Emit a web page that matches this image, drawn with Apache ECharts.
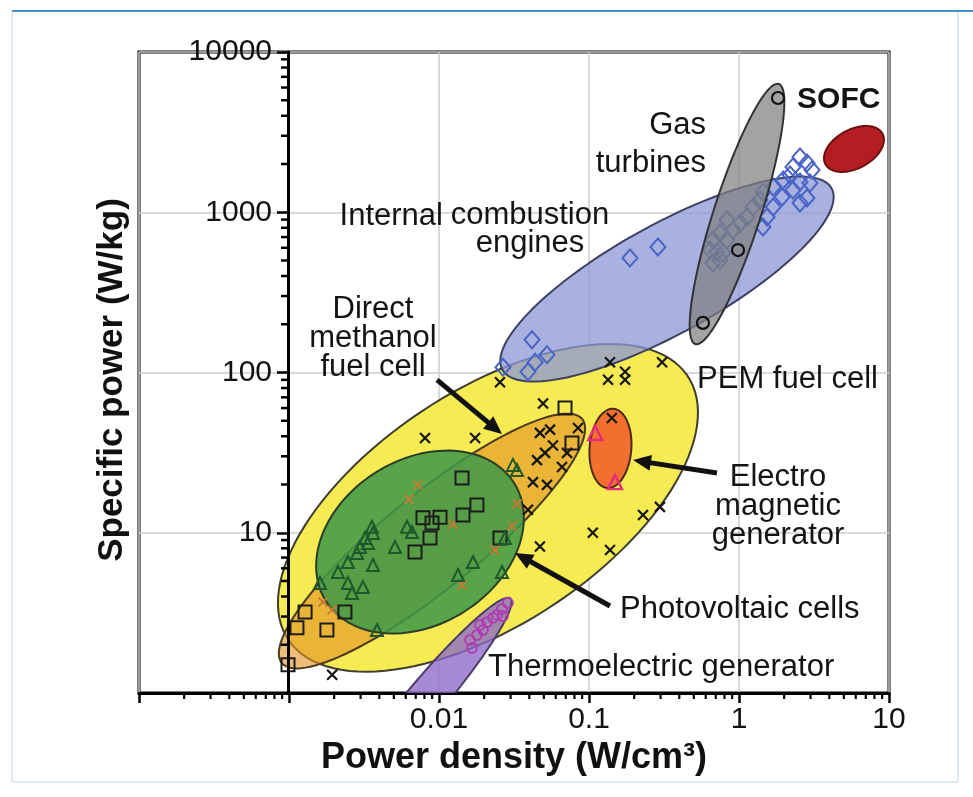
<!DOCTYPE html>
<html>
<head>
<meta charset="utf-8">
<script src="https://cdn.jsdelivr.net/npm/echarts@6/dist/echarts.min.js"></script>
<style>
html, body { margin: 0; padding: 0; background: #ffffff; }
#c { width: 973px; height: 797px; }
</style>
</head>
<body>
<div id="c"></div>
<script>
// ---------------- tick labels ----------------
const xTickValues = [0.01, 0.1, 1, 10];
const xTickLabels = ['0.01', '0.1', '1', '10'];
const yTickValues = [10, 100, 1000, 10000];
const yTickLabels = ['10', '100', '1000', '10000'];
const minorMultipliers = [2, 3, 4, 5, 6, 7, 8, 9];

// ---------------- data (power density W/cm3, specific power W/kg) ----------------
const pemCrosses = [
  [0.0255, 87], [0.138, 116], [0.307, 116], [0.134, 90], [0.174, 101], [0.174, 90],
  [0.0494, 64], [0.00807, 39], [0.0174, 39], [0.0845, 45], [0.0471, 42], [0.055, 44],
  [0.0575, 35], [0.0509, 31.5], [0.045, 28.4], [0.0714, 31.5], [0.0661, 25.7], [0.142, 52],
  [0.0423, 20.7], [0.0525, 19.9], [0.0392, 13.9], [0.106, 10], [0.229, 12.9], [0.297, 14.5],
  [0.0471, 8.2], [0.138, 7.8], [0.00194, 1.3]
];
const dmfcCrosses = [
  [0.00725, 19.9], [0.00631, 16.2], [0.0124, 11.3], [0.0331, 15.1], [0.0307, 11.0],
  [0.0236, 7.8], [0.01424, 4.72], [0.001686, 3.7], [0.001936, 3.3]
];
const squares = [
  [0.0692, 60], [0.077, 36.3], [0.01424, 22], [0.0179, 14.9], [0.01445, 12.9], [0.01016, 12.5],
  [0.00782, 12.4], [0.00898, 11.5], [0.00871, 9.27], [0.00692, 7.59], [0.0255, 9.27],
  [0.00236, 3.2], [0.00128, 3.2], [0.00113, 2.55], [0.00179, 2.47], [0.000985, 1.5]
];
const pvTriangles = [
  [0.00357, 10.9], [0.00612, 10.9], [0.0066, 10.1], [0.00363, 9.96], [0.00321, 9.27],
  [0.00336, 8.63], [0.00297, 8.15], [0.00509, 8.15], [0.00284, 7.48], [0.00247, 6.57],
  [0.00363, 6.29], [0.00212, 5.69], [0.00161, 4.86], [0.00247, 4.86], [0.00311, 4.59],
  [0.00263, 4.21], [0.00386, 2.47], [0.01339, 5.45], [0.01686, 6.57], [0.0263, 5.69],
  [0.0311, 26.5], [0.0331, 24.6], [0.0275, 9.27]
];
const emTriangles = [[0.11, 41.9], [0.149, 20.7]];
const tegCircles = [
  [0.0288, 3.65], [0.0263, 3.34], [0.0267, 3.02], [0.0244, 3.07], [0.0229, 2.94], [0.0209, 2.77],
  [0.01876, 2.66], [0.01965, 2.47], [0.0179, 2.3], [0.0161, 2.14], [0.0166, 1.91]
];
const turbineCircles = [[1.82, 5164], [0.985, 581], [0.575, 204]];
const iceDiamonds = [
  [0.1875, 518], [0.288, 607], [2.55, 2213], [2.84, 2030], [2.29, 1916], [2.19, 1708],
  [1.97, 1589], [2.55, 1545], [2.97, 1523], [1.69, 1438], [2.29, 1377], [2.84, 1227],
  [1.445, 1337], [1.94, 1245], [2.55, 1142], [1.38, 1192], [1.69, 1078], [1.24, 1078],
  [1.54, 934], [1.445, 809], [1.13, 934], [1.02, 857], [0.832, 895], [0.912, 775],
  [0.747, 742], [0.832, 671], [0.671, 671], [0.713, 565], [0.747, 504], [0.671, 482],
  [0.641, 581], [0.782, 557], [3.07, 1836],
  [0.0267, 108], [0.0417, 160], [0.0525, 129], [0.0437, 116], [0.0392, 101]
];

// ---------------- technology regions (ellipses in log-log space) ----------------
const regionNames   = ['PEM fuel cell', 'Direct methanol fuel cell', 'Photovoltaic cells', 'Thermoelectric generator',
                       'Internal combustion engines', 'Gas turbines', 'Electromagnetic generator', 'SOFC'];
const regionCenterX = [0.0212, 0.00898, 0.00747, 0.00807, 0.331, 0.97, 0.139, 5.84];
const regionCenterY = [14.3, 8.88, 8.75, 0.904, 383, 975, 33.6, 2483];
const regionMajor   = [1.566, 1.258, 0.729, 0.852, 1.235, 0.858, 0.248, 0.213]; // semi-axis, decades
const regionMinor   = [0.744, 0.303, 0.523, 0.123, 0.345, 0.155, 0.139, 0.123]; // semi-axis, decades
const regionTilt    = [30.6, 37, 26.7, 48, 27, 71, 85, 25];                      // degrees

// ---------------- annotations ----------------
const noteText = ['SOFC', 'Gas\nturbines', 'Internal', 'combustion\nengines', 'Direct\nmethanol\nfuel cell',
                  'PEM fuel cell', 'Electro\nmagnetic\ngenerator', 'Photovoltaic cells', 'Thermoelectric generator'];
const noteX = [2.44, 0.603, 0.01063, 0.0404, 0.00363, 0.525, 1.82, 0.161, 0.0212];
const noteY = [5015, 2649, 948, 780, 164, 90, 14.5, 3.3, 1.45];
const arrowFrom = [[0.0097, 90], [0.713, 23.6], [0.138, 3.49]];
const arrowTo   = [[0.0263, 41.3], [0.1965, 28.4], [0.0321, 7.48]];

// ---------------- styles ----------------
const FONT = '"Liberation Sans", Arial, Helvetica, sans-serif';
const regionFill = ['rgba(246,234,70,0.93)', 'rgba(226,148,38,0.62)', 'rgba(62,152,72,0.86)', 'rgba(138,106,200,0.78)',
                    'rgba(140,152,214,0.76)', 'rgba(128,128,128,0.72)', 'rgba(242,106,46,0.97)', 'rgba(178,22,26,0.97)'];
const regionStroke = ['#3d3d30', '#4a3a20', '#2a3d2a', '#4d3d66', '#3d4060', '#333333', '#4a2a18', '#6a1010'];
const noteAlign = ['left', 'right', 'right', 'center', 'center', 'left', 'center', 'left', 'left'];
const noteWeight = ['bold', 'normal', 'normal', 'normal', 'normal', 'normal', 'normal', 'normal', 'normal'];
const noteLine = [30, 38, 30, 28, 29, 30, 29, 30, 30];

function findLabel(values, labels, v) {
  for (let i = 0; i < values.length; i++) {
    if (Math.abs(Math.log10(v / values[i])) < 1e-6) return labels[i];
  }
  return '';
}

function ellipsePoints(api, i) {
  const cxL = Math.log10(regionCenterX[i]), cyL = Math.log10(regionCenterY[i]);
  const a = regionMajor[i], b = regionMinor[i], t = regionTilt[i] * Math.PI / 180;
  const pts = [];
  const n = 120;
  for (let k = 0; k < n; k++) {
    const s = 2 * Math.PI * k / n;
    const u = a * Math.cos(s), v = b * Math.sin(s);
    const lx = cxL + u * Math.cos(t) - v * Math.sin(t);
    const ly = cyL + u * Math.sin(t) + v * Math.cos(t);
    pts.push(api.coord([Math.pow(10, lx), Math.pow(10, ly)]));
  }
  return pts;
}

function regionSeries(indices, z) {
  return {
    type: 'custom', coordinateSystem: 'cartesian2d', xAxisIndex: 0, yAxisIndex: 0,
    clip: true, z: z, silent: true,
    encode: { x: 0, y: 1 },
    data: indices.map(i => [regionCenterX[i], regionCenterY[i], i]),
    renderItem: function (params, api) {
      const i = api.value(2);
      return {
        type: 'polygon',
        shape: { points: ellipsePoints(api, i) },
        style: { fill: regionFill[i], stroke: regionStroke[i], lineWidth: 2 }
      };
    }
  };
}

const crossPath = 'path://M0,0L10,10M10,0L0,10';
function scatter(name, data, symbol, size, color, bw, z) {
  return {
    type: 'scatter', name: name, data: data, symbol: symbol, symbolSize: size,
    xAxisIndex: 0, yAxisIndex: 0, z: z, silent: true,
    itemStyle: { color: 'rgba(0,0,0,0)', borderColor: color, borderWidth: bw, opacity: 1 }
  };
}

const chart = echarts.init(document.getElementById('c'), null, { renderer: 'canvas' });

const option = {
  animation: false,
  backgroundColor: '#ffffff',
  grid: {
    left: 139, right: 84, top: 52, bottom: 104,
    show: true, backgroundColor: '#ffffff', borderColor: '#000000', borderWidth: 3,
    containLabel: false, outerBoundsMode: 'none'
  },
  xAxis: [{
    type: 'log', logBase: 10, min: 0.0001, max: 10, splitNumber: 5,
    axisLine: { show: true, onZero: false, lineStyle: { color: '#000', width: 3 } },
    axisTick: { show: true, inside: false, length: 10, lineStyle: { color: '#000', width: 2.5 } },
    axisLabel: {
      formatter: v => findLabel(xTickValues, xTickLabels, v),
      color: '#111', fontSize: 30, fontFamily: FONT, margin: 12
    },
    splitLine: { show: true, lineStyle: { color: '#cccccc', width: 1.5 } },
    name: 'Power density (W/cm³)', nameLocation: 'middle', nameGap: 42,
    nameTextStyle: { fontSize: 36, fontWeight: 'bold', fontFamily: FONT, color: '#111' }
  }],
  yAxis: [{
    type: 'log', logBase: 10, min: 1, max: 10000, splitNumber: 4,
    axisLine: { show: false }, axisTick: { show: false }, axisLabel: { show: false },
    splitLine: { show: true, lineStyle: { color: '#cccccc', width: 1.5 } }
  }, {
    type: 'log', logBase: 10, min: 1, max: 10000, splitNumber: 4, position: 'left', offset: -149, z: 10,
    axisLine: { show: true, onZero: false, lineStyle: { color: '#000', width: 3 } },
    axisTick: { show: true, inside: false, length: 11, lineStyle: { color: '#000', width: 2.5 } },
    axisLabel: {
      formatter: v => findLabel(yTickValues, yTickLabels, v),
      color: '#111', fontSize: 30, fontFamily: FONT, margin: 16
    },
    splitLine: { show: false }
  }],
  graphic: [
    { type: 'rect', z: 100, silent: true, shape: { x: 12, y: 11, width: 946, height: 771 },
      style: { fill: 'none', stroke: '#bcd6e8', lineWidth: 1 } },
    { type: 'line', z: 100, silent: true, shape: { x1: 12, y1: 11, x2: 973, y2: 11 },
      style: { stroke: '#4a90c8', lineWidth: 2 } },
    { type: 'text', z: 100, silent: true, x: 112, y: 380, rotation: Math.PI / 2,
      style: { text: 'Specific power (W/kg)', font: 'bold 35px ' + FONT, fill: '#111',
               align: 'center', verticalAlign: 'middle', textAlign: 'center', textVerticalAlign: 'middle' } }
  ],
  series: [
    regionSeries([0, 1, 2, 3, 4], 2),
    scatter('Internal combustion engines', iceDiamonds, 'diamond', [15, 17], '#4864c6', 2, 3),
    regionSeries([5, 6, 7], 4),
    scatter('PEM fuel cell', pemCrosses, crossPath, 10, '#161616', 2.2, 5),
    scatter('Direct methanol fuel cell', dmfcCrosses, crossPath, 9, '#c47a35', 2, 5),
    scatter('Squares', squares, 'rect', 13, '#1c1c1c', 2, 5),
    scatter('Photovoltaic cells', pvTriangles, 'triangle', 12, '#1d5a2b', 2, 5),
    scatter('Electromagnetic generator', emTriangles, 'triangle', 14, '#e62a7c', 2.4, 5),
    scatter('Thermoelectric generator', tegCircles, 'circle', 10, '#b03ab4', 1.8, 5),
    scatter('Gas turbines', turbineCircles, 'circle', 12, '#111111', 2.2, 5),
    {
      // arrows
      type: 'custom', coordinateSystem: 'cartesian2d', xAxisIndex: 0, yAxisIndex: 0, z: 6, silent: true, clip: false,
      encode: { x: [0, 2], y: [1, 3] },
      data: arrowFrom.map((f, i) => [f[0], f[1], arrowTo[i][0], arrowTo[i][1]]),
      renderItem: function (params, api) {
        const p1 = api.coord([api.value(0), api.value(1)]);
        const p2 = api.coord([api.value(2), api.value(3)]);
        const dx = p2[0] - p1[0], dy = p2[1] - p1[1];
        const len = Math.sqrt(dx * dx + dy * dy);
        const ux = dx / len, uy = dy / len;
        const hl = 18, hw = 8;
        const bx = p2[0] - ux * hl, by = p2[1] - uy * hl;
        return {
          type: 'group',
          children: [
            { type: 'line', shape: { x1: p1[0], y1: p1[1], x2: bx + ux * 3, y2: by + uy * 3 },
              style: { stroke: '#111', lineWidth: 5 } },
            { type: 'polygon', shape: { points: [[p2[0], p2[1]], [bx - uy * hw, by + ux * hw], [bx + uy * hw, by - ux * hw]] },
              style: { fill: '#111' } }
          ]
        };
      }
    },
    {
      // text annotations
      type: 'custom', coordinateSystem: 'cartesian2d', xAxisIndex: 0, yAxisIndex: 0, z: 7, silent: true, clip: false,
      encode: { x: 0, y: 1 },
      data: noteX.map((x, i) => [x, noteY[i], i]),
      renderItem: function (params, api) {
        const i = api.value(2);
        const p = api.coord([api.value(0), api.value(1)]);
        return {
          type: 'text', x: p[0], y: p[1],
          style: {
            text: noteText[i], fill: '#141414',
            font: noteWeight[i] + ' ' + (i === 0 ? 30 : 31) + 'px ' + FONT,
            align: noteAlign[i], textAlign: noteAlign[i],
            verticalAlign: 'middle', textVerticalAlign: 'middle',
            lineHeight: noteLine[i]
          }
        };
      }
    },
    {
      // minor ticks of both log axes
      type: 'custom', coordinateSystem: 'cartesian2d', xAxisIndex: 0, yAxisIndex: 0, z: 8, silent: true, clip: false,
      encode: { x: 0, y: 1 },
      data: [[0.001, 1]],
      renderItem: function (params, api) {
        const kids = [];
        for (let e = -4; e <= 0; e++) {
          minorMultipliers.forEach(m => {
            const p = api.coord([m * Math.pow(10, e), 1]);
            kids.push({ type: 'line', shape: { x1: p[0], y1: p[1], x2: p[0], y2: p[1] + 6 },
                        style: { stroke: '#000', lineWidth: 2.2 } });
          });
        }
        for (let e = 0; e <= 3; e++) {
          minorMultipliers.forEach(m => {
            const p = api.coord([0.001, m * Math.pow(10, e)]);
            kids.push({ type: 'line', shape: { x1: p[0] - 8, y1: p[1], x2: p[0], y2: p[1] },
                        style: { stroke: '#000', lineWidth: 2.5 } });
          });
        }
        return { type: 'group', children: kids };
      }
    }
  ]
};
chart.setOption(option);
</script>
</body>
</html>
